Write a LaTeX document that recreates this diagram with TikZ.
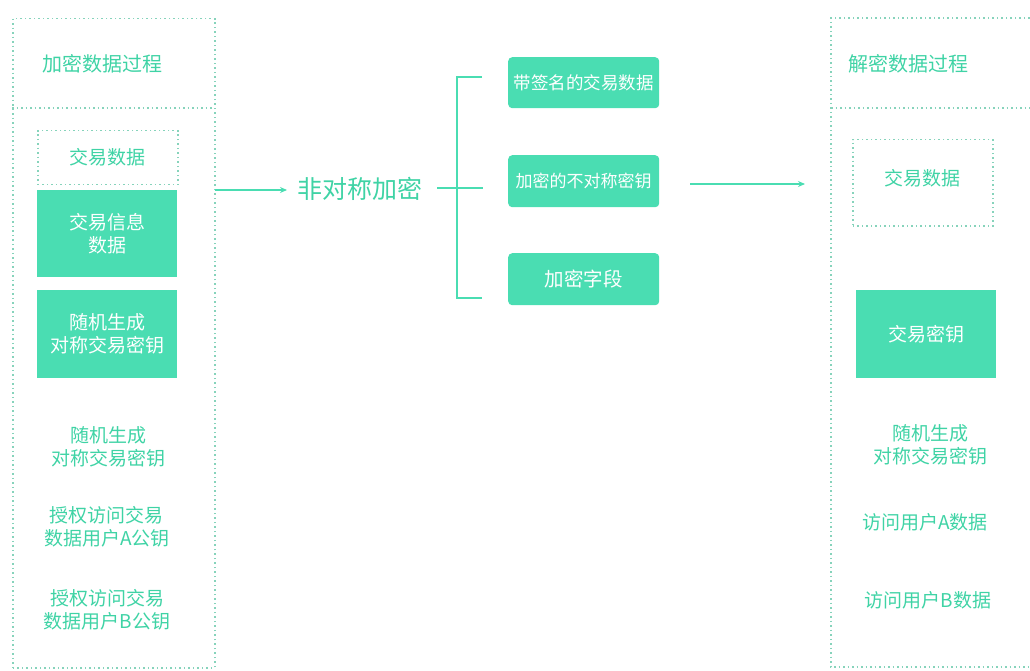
\documentclass[tikz,border=0pt]{standalone}
\usepackage{fontspec}
\setmainfont{Noto Sans CJK SC}
\usetikzlibrary{arrows.meta}
\definecolor{mint}{HTML}{4ADDB2}
\definecolor{minttext}{HTML}{3FD3A5}
\definecolor{dotc}{HTML}{86D3BB}
\tikzset{
  dotbox/.style={draw=dotc, line width=1.5pt, dash pattern=on 1.5pt off 3pt},
  greenbox/.style={fill=mint, draw=none, text=white, font=\fontsize{19}{23}\selectfont, align=center, inner sep=0pt},
  rgreenbox/.style={greenbox, rounded corners=4pt},
  lbl/.style={text=minttext, font=\fontsize{19}{23}\selectfont, align=center},
  conn/.style={draw=mint, line width=1.6pt},
  arr/.style={conn, -{Stealth[length=7pt,width=6pt]}}
}
\begin{document}
\begin{tikzpicture}[x=1pt,y=-1pt]
\useasboundingbox (0,0) rectangle (1030,671);
% left panel
\draw[dotbox] (12,108) -- (214,108);
\node[dotbox, minimum width=202pt, minimum height=649pt, anchor=north west, inner sep=0pt] (lpanel) at (12,18) {};
\node[lbl, font=\fontsize{20}{24}\selectfont] (ltitle) at (102,64) {加密数据过程};
\node[dotbox, minimum width=140pt, minimum height=54pt, anchor=north west, inner sep=0pt] (ldata) at (37,130) {};
\node[lbl] at (107,157) {交易数据};
\node[greenbox, minimum width=140pt, minimum height=87pt, anchor=north west] (linfo) at (37,190) {交易信息\\数据};
\node[greenbox, minimum width=140pt, minimum height=88pt, anchor=north west] (lkey) at (37,290) {随机生成\\对称交易密钥};
\node[lbl] (lt1) at (108,447) {随机生成\\对称交易密钥};
\node[lbl] (lt2) at (107,527) {授权访问交易\\数据用户A公钥};
\node[lbl] (lt3) at (107,610) {授权访问交易\\数据用户B公钥};
% middle
\coordinate (a1) at (215,190);
\node[text=minttext, font=\fontsize{25}{28}\selectfont, anchor=west, inner sep=0pt] (asym) at (297,189) {非对称加密};
\draw[arr] (a1) -- (287,190);
\node[rgreenbox, minimum width=151pt, minimum height=51pt, anchor=north west, font=\fontsize{17.5}{20}\selectfont] (m1) at (508,57) {带签名的交易数据};
\node[rgreenbox, minimum width=151pt, minimum height=52pt, anchor=north west, font=\fontsize{17}{20}\selectfont] (m2) at (508,155) {加密的不对称密钥};
\node[rgreenbox, minimum width=151pt, minimum height=52pt, anchor=north west, font=\fontsize{19.5}{22}\selectfont] (m3) at (508,253) {加密字段};
\coordinate (bl) at (437,188);
\coordinate (br) at (483,188);
\draw[conn] (bl) -- (br);
\draw[conn] (482,77) -- (457,77) -- (457,298) -- (482,298);
\draw[arr] (690,184) -- (805,184);
% right panel
\draw[dotbox] (831,108) -- (1034,108);
\draw[dotbox] (1034,18) -- (831,18) -- (831,667) -- (1034,667);
\node[lbl, font=\fontsize{20}{24}\selectfont] (rtitle) at (908,64) {解密数据过程};
\node[dotbox, minimum width=140pt, minimum height=86pt, anchor=north west, inner sep=0pt] (rdata) at (852,139) {};
\node[lbl] at (922,178) {交易数据};
\node[greenbox, minimum width=140pt, minimum height=88pt, anchor=north west] (rkey) at (856,290) {交易密钥};
\node[lbl] (rt1) at (930,445) {随机生成\\对称交易密钥};
\node[lbl] (rt2) at (925,522) {访问用户A数据};
\node[lbl] (rt3) at (928,600) {访问用户B数据};
\end{tikzpicture}
\end{document}
